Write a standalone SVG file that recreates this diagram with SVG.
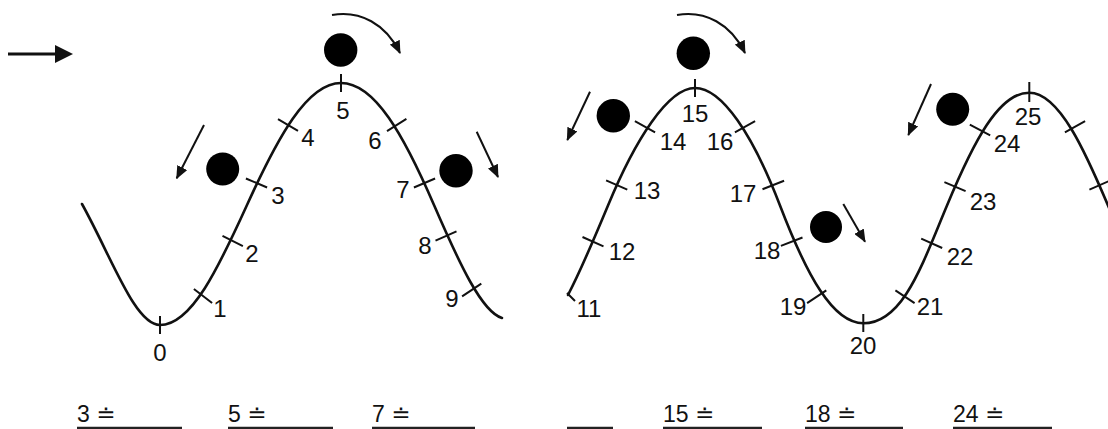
<svg xmlns="http://www.w3.org/2000/svg" width="1108" height="429" viewBox="0 0 1108 429">
<style>
.curve{fill:none;stroke:#111;stroke-width:2.6;stroke-linecap:round}
.tick{fill:none;stroke:#111;stroke-width:2}
.num{font-family:"Liberation Sans",Arial,sans-serif;font-size:24px;fill:#111;text-anchor:middle}
.ans{font-family:"Liberation Sans","DejaVu Sans",sans-serif;font-size:23px;fill:#111}
.uline{stroke:#222;stroke-width:2.4}
.ball{fill:#000}
.mv{fill:none;stroke:#111;stroke-width:2;marker-end:url(#ah)}
</style>
<defs>
<marker id="ah" viewBox="0 0 13 11" refX="12" refY="5.5" markerWidth="13" markerHeight="11" markerUnits="userSpaceOnUse" orient="auto">
<path d="M0,0 L13,5.5 L0,11 z" fill="#111"/>
</marker>
</defs>
<rect width="1108" height="429" fill="#fff"/>

<g id="start-arrow">
<line x1="8" y1="54" x2="57" y2="54" stroke="#111" stroke-width="3"/>
<polygon points="55,45 73,54 55,63" fill="#111"/>
</g>

<g id="curve-left">
<path class="curve" d="M82,204 C112,258 135,325 160,325 C191.5,325 218.6,267.5 247,205 C277.6,137.7 307,83 341,83 C374.7,83 403.7,135 434,205 C460,265 482,312 502,318"/>
</g>
<g id="curve-right">
<path class="curve" d="M568,295 C581,270 595,236.7 608,205.5 C635,140 668,88 695,88 C722,88 753,135 780,205.5 C807,276 833,323.3 863.3,323.3 C903,323.3 922,265 947,205.5 C974,140.7 999,92.7 1029.3,92.7 C1059,92.7 1085,150 1112,215"/>
</g>

<g id="ticks" class="tick">
<path d="M160,316 V334 M193.9,289 L212.1,303 M222.5,235.9 L242.9,246.1 M245.9,178.5 L267.1,187.5 M278,119.1 L298,130.9 M341,74 V92 M406.4,118.9 L387,131.1 M435.1,178.5 L413.9,187.5 M456.5,231.3 L435.5,240.7 M481.3,283.6 L462.1,296.4"/>
<path d="M567,293 L575,301 M582.5,237 L603.5,246.4 M606.1,180.4 L627.3,189.6 M634.9,121.1 L655.1,132.3 M695,79 V97 M755.1,121.1 L734.9,132.3 M784.1,180.8 L762.5,189.2 M802.5,237.5 L780.9,245.9 M826.3,290.3 L807.1,303.1 M863.3,314 V332 M895.4,290.3 L914.6,303.1 M921.2,238.6 L942.2,248 M944.4,182.2 L965.6,191.2 M969.8,124.6 L990.2,135.4 M1029.3,82 V102 M1085.1,121.1 L1064.9,132.3 M1110.6,180.4 L1089.4,189.6"/>
</g>

<g id="tick-labels" class="num">
<text x="160" y="361">0</text>
<text x="220" y="317">1</text>
<text x="252" y="262">2</text>
<text x="278" y="204">3</text>
<text x="308" y="146">4</text>
<text x="343" y="119">5</text>
<text x="375" y="149">6</text>
<text x="403" y="198">7</text>
<text x="425" y="254">8</text>
<text x="452" y="307">9</text>
<text x="589" y="317">11</text>
<text x="622" y="260">12</text>
<text x="647" y="199">13</text>
<text x="673" y="150">14</text>
<text x="695" y="122">15</text>
<text x="720" y="150">16</text>
<text x="743" y="202">17</text>
<text x="767" y="259">18</text>
<text x="793" y="315">19</text>
<text x="863" y="354">20</text>
<text x="930" y="315">21</text>
<text x="960" y="265">22</text>
<text x="983" y="210">23</text>
<text x="1007" y="152">24</text>
<text x="1028" y="125">25</text>
</g>

<g id="ball-3"><circle class="ball" cx="222.7" cy="169" r="16.5"/></g>
<g id="ball-5"><circle class="ball" cx="340.7" cy="50" r="16.7"/></g>
<g id="ball-7"><circle class="ball" cx="456" cy="170.7" r="16.7"/></g>
<g id="ball-14"><circle class="ball" cx="613.3" cy="115.7" r="16.7"/></g>
<g id="ball-15"><circle class="ball" cx="693.3" cy="53.3" r="16.7"/></g>
<g id="ball-18"><circle class="ball" cx="826" cy="227" r="16"/></g>
<g id="ball-24"><circle class="ball" cx="952.7" cy="109.3" r="16.5"/></g>

<g id="connectors">
<line class="mv" x1="204" y1="125" x2="176.7" y2="178.3"/>
<path class="mv" d="M332,15 C360,10 386,24 400,53"/>
<line class="mv" x1="476.7" y1="131.7" x2="498" y2="177"/>
<line class="mv" x1="590" y1="91.7" x2="567.3" y2="140"/>
<path class="mv" d="M677,15 C705,10 731,24 745,53"/>
<line class="mv" x1="843.3" y1="204" x2="865" y2="241.7"/>
<line class="mv" x1="931" y1="84" x2="908.3" y2="135"/>
</g>

<g id="answers">
<text class="ans" x="77" y="422">3 ≐</text>
<line class="uline" x1="77" y1="428" x2="182" y2="428"/>
<text class="ans" x="228" y="422">5 ≐</text>
<line class="uline" x1="228" y1="428" x2="333" y2="428"/>
<text class="ans" x="372" y="422">7 ≐</text>
<line class="uline" x1="372" y1="428" x2="475" y2="428"/>
<line class="uline" x1="567" y1="428" x2="613" y2="428"/>
<text class="ans" x="663" y="422">15 ≐</text>
<line class="uline" x1="663" y1="428" x2="762" y2="428"/>
<text class="ans" x="805" y="422">18 ≐</text>
<line class="uline" x1="805" y1="428" x2="903" y2="428"/>
<text class="ans" x="953" y="422">24 ≐</text>
<line class="uline" x1="953" y1="428" x2="1052" y2="428"/>
</g>
</svg>
